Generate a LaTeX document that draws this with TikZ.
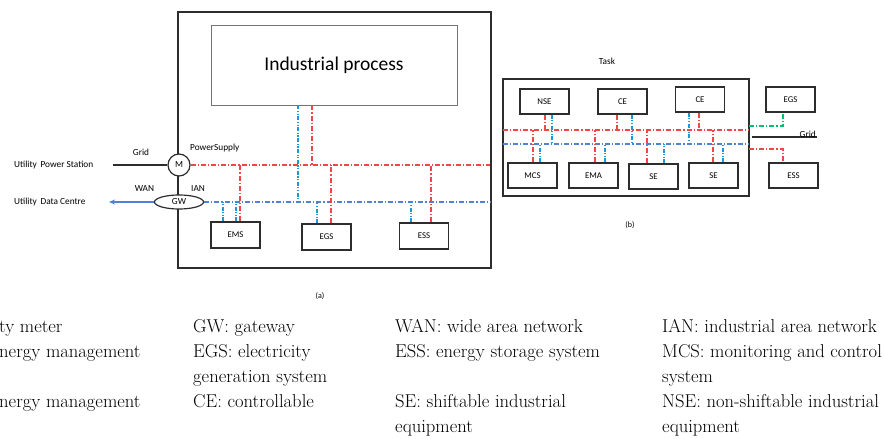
\documentclass[tikz,border=0pt]{standalone}
\usepackage{fontspec}
\setsansfont{Carlito}
\usetikzlibrary{shapes.geometric,arrows.meta}
\definecolor{pred}{RGB}{240,70,70}
\definecolor{pblue}{RGB}{80,130,210}
\definecolor{vblue}{RGB}{30,150,220}
\definecolor{pgreen}{RGB}{0,190,110}
\definecolor{frm}{RGB}{45,45,45}
\tikzset{
  pline/.style={pred,line width=1.2pt,dash pattern=on 5pt off 2pt on 1.2pt off 2pt},
  bbus/.style={pblue,line width=1.2pt,dash pattern=on 5pt off 2pt on 1.2pt off 2pt},
  bv/.style={vblue,line width=1.2pt,dash pattern=on 4pt off 1.5pt on 1.2pt off 1.5pt on 1.2pt off 1.5pt},
  gline/.style={pgreen,line width=1.2pt,dash pattern=on 5pt off 2pt on 1.2pt off 2pt},
  ubox/.style={draw=frm,line width=1.2pt,fill=white,minimum width=49pt,minimum height=26pt,inner sep=0pt,font=\sffamily\fontsize{8.8}{10}\selectfont},
  lbl/.style={inner sep=0pt,font=\sffamily\fontsize{9.3}{11}\selectfont},
  leg/.style={anchor=base west,inner sep=0pt,font=\fontsize{18.6}{22}\selectfont},
}
\begin{document}
\begin{tikzpicture}[x=1pt,y=-1pt]
\useasboundingbox (0,0) rectangle (884,439);
% ---------- (a)
\draw[frm,line width=1.2pt] (178,12) rectangle (491,268);
\node[draw=black!55,line width=0.9pt,minimum width=246pt,minimum height=80pt,inner sep=0pt,
      font=\sffamily\fontsize{19.5}{22}\selectfont] (ip) at (334,65) {Industrial process};
\node[ubox] (ems) at (235.5,235) {EMS};
\node[ubox] (egsa) at (326.5,237) {EGS};
\node[ubox] (essa) at (424,236) {ESS};
\node[circle,draw=frm,line width=1.2pt,fill=white,minimum size=22pt,inner sep=0pt,lbl] (m) at (179,165) {M};
\node[ellipse,draw=frm,line width=1.2pt,fill=white,minimum width=49pt,minimum height=14pt,inner sep=0pt,lbl] (gw) at (179,202) {GW};
\coordinate (pend) at (490,165);
\coordinate (bend) at (490,202);
\coordinate (gridL) at (113,165);
\coordinate (dcL) at (109,202);
\draw[frm,line width=1.2pt] (gridL) -- (m.west);
\draw[pblue,line width=1.2pt,-{Stealth[length=6pt,width=5pt]}] (gw.west) -- (dcL);
% buses
\draw[pline] (m.east) -- (pend);
\draw[bbus] (gw.east) -- (bend);
% industrial process links
\draw[bv] (ip.south -| 298,0) -- (298,0 |- bend);
\draw[pline] (ip.south -| 312,0) -- (312,0 |- pend);
% EMS
\draw[bv] (ems.north -| 223,0) -- (223,0 |- bend);
\draw[bv] (ems.north -| 236,0) -- (236,0 |- bend);
\draw[pline] (ems.north -| 240,0) -- (240,0 |- pend);
% EGS
\draw[bv] (egsa.north -| 317,0) -- (317,0 |- bend);
\draw[pline] (egsa.north -| 331,0) -- (331,0 |- pend);
% ESS
\draw[bv] (essa.north -| 411,0) -- (411,0 |- bend);
\draw[pline] (essa.north -| 431,0) -- (431,0 |- pend);
% labels
\node[lbl] (tgrid) at (141,152) {Grid};
\node[lbl,anchor=west] (tps) at (190,148) {PowerSupply};
\node[lbl,anchor=west] (tups) at (14,165) {Utility\, Power Station};
\node[lbl] (twan) at (144.5,189) {WAN};
\node[lbl,anchor=west] (tian) at (191,189) {IAN};
\node[lbl,anchor=west] (tudc) at (14,202) {Utility\, Data Centre};
\node[lbl,font=\sffamily\fontsize{8}{10}\selectfont] (ta) at (320,296) {(a)};
% ---------- (b)
\draw[frm,line width=1.2pt] (503,79) rectangle (749,196);
\node[lbl] (task) at (607,61) {Task};
\node[lbl,font=\sffamily\fontsize{8}{10}\selectfont] (tb) at (630,225) {(b)};
\node[ubox,minimum height=25pt] (nse) at (544.5,101.5) {NSE};
\node[ubox,minimum height=25pt] (ce1) at (622.5,101.5) {CE};
\node[ubox,minimum height=25pt] (ce2) at (700,99.5) {CE};
\node[ubox,minimum height=25pt] (egsb) at (790.5,99.5) {EGS};
\node[ubox,minimum height=25pt] (mcs) at (532.5,175.5) {MCS};
\node[ubox,minimum height=25pt] (ema) at (593.5,175.5) {EMA};
\node[ubox,minimum height=25pt] (se1) at (653.5,176.5) {SE};
\node[ubox,minimum height=25pt] (se2) at (713.5,175.5) {SE};
\node[ubox,minimum height=25pt] (essb) at (793.5,175.5) {ESS};
\coordinate (rbL) at (503,130);
\coordinate (rbR) at (749,130);
\coordinate (bbL) at (503,144);
\coordinate (bbR) at (749,144);
\draw[pline] (rbL) -- (rbR);
\draw[bbus] (bbL) -- (bbR);
% top row links
\draw[pline] (nse.south -| 545,0) -- (545,0 |- rbL);
\draw[bv] (nse.south -| 552,0) -- (552,0 |- bbL);
\draw[pline] (ce1.south -| 617,0) -- (617,0 |- rbL);
\draw[bv] (ce1.south -| 632,0) -- (632,0 |- bbL);
\draw[bv] (ce2.south -| 689,0) -- (689,0 |- bbL);
\draw[pline] (ce2.south -| 699,0) -- (699,0 |- rbL);
% bottom row links
\draw[pline] (mcs.north -| 533,0) -- (533,0 |- rbL);
\draw[bv] (mcs.north -| 540,0) -- (540,0 |- bbL);
\draw[pline] (ema.north -| 595,0) -- (595,0 |- rbL);
\draw[bv] (ema.north -| 605,0) -- (605,0 |- bbL);
\draw[pline] (se1.north -| 647,0) -- (647,0 |- rbL);
\draw[bv] (se1.north -| 664,0) -- (664,0 |- bbL);
\draw[pline] (se2.north -| 713,0) -- (713,0 |- rbL);
\draw[bv] (se2.north -| 723,0) -- (723,0 |- bbL);
% external
\coordinate (gstart) at (749,126);
\coordinate (rstart) at (749,149);
\draw[gline] (gstart) -| (egsb.south -| 783,0);
\draw[pline] (rstart) -| (essb.north -| 783,0);
\coordinate (gridbL) at (752,137);
\coordinate (gridbR) at (817,137);
\draw[frm,line width=1.1pt] (gridbL) -- (gridbR);
\node[lbl,anchor=south east] (tgridb) at (816,137.5) {Grid};
% ---------- legend
\node[leg] (l11) at (-1,332) {ty meter};
\node[leg] (l12) at (-1,357) {nergy management};
\node[leg] (l14) at (-1,407) {nergy management};
\node[leg] (l21) at (193,332) {GW: gateway};
\node[leg] (l22) at (193,357) {EGS: electricity};
\node[leg] (l23) at (193,382) {generation system};
\node[leg] (l24) at (193,407) {CE: controllable};
\node[leg] (l31) at (395,332) {WAN: wide area network};
\node[leg] (l32) at (395,357) {ESS: energy storage system};
\node[leg] (l34) at (395,407) {SE: shiftable industrial};
\node[leg] (l35) at (395,432) {equipment};
\node[leg] (l41) at (662,332) {IAN: industrial area network};
\node[leg] (l42) at (662,357) {MCS: monitoring and control};
\node[leg] (l43) at (662,382) {system};
\node[leg] (l44) at (662,407) {NSE: non-shiftable industrial};
\node[leg] (l45) at (662,432) {equipment};
\end{tikzpicture}
\end{document}
